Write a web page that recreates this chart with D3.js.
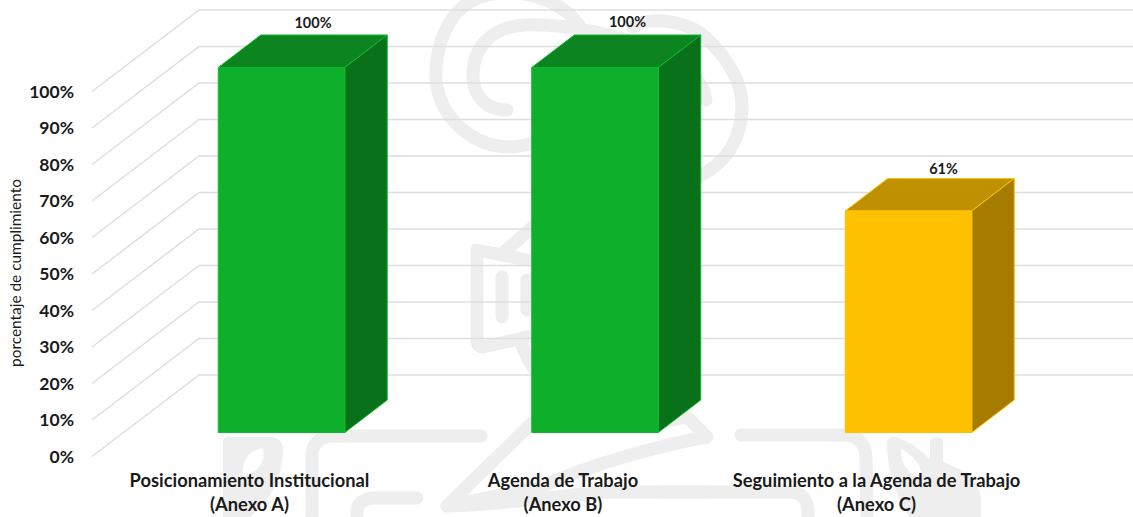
<!DOCTYPE html>
<html><head><meta charset="utf-8">
<script src="https://cdn.jsdelivr.net/npm/d3@7"></script>
<style>html,body{margin:0;padding:0;background:#fff}svg{display:block}text{font-family:Lato,"Open Sans",sans-serif;fill:#1a1a1a}</style>
</head><body><svg id="c" width="1133" height="517"></svg>
<script>
const categories=[["Posicionamiento Institucional","(Anexo A)"],["Agenda de Trabajo","(Anexo B)"],["Seguimiento a la Agenda de Trabajo","(Anexo C)"]];
const values=[100,100,60.7];
const ticks=[0,10,20,30,40,50,60,70,80,90,100];
const axisTitle="porcentaje de cumplimiento";
const palette=[
 {front:"#0EAF2A",top:"#0C841F",side:"#0A711B",edge:"#10B82D"},
 {front:"#0EAF2A",top:"#0C841F",side:"#0A711B",edge:"#10B82D"},
 {front:"#FFC000",top:"#BF9000",side:"#A67C00",edge:"#FFC000"}];
const valueLabelDx=[31.5,32.5,35];
const valueLabelY=[28,27,174];

const svg=d3.select("#c");
const W=1133;
const y=d3.scaleLinear().domain([0,100]).range([456.5,91.5]);
const depth={dx:107,dy:-81.5};
const barDepth={dx:42.5,dy:-32.5};
const x=d3.scalePoint().domain([0,1,2]).range([281.5,908.5]);
const barW=126.5, barBaseShift=-24;

// watermark (decorative background)
const wmColor="#eeeeee";
const wm=svg.append("g").attr("fill","none").attr("stroke",wmColor).attr("stroke-width",13).attr("stroke-linecap","round").attr("stroke-linejoin","round");
[
 // spiral
 "M507 110C485 110 473 95 473 75C473 45 495 26 525 25C580 22 700 50 706 100",
 "M583 32C565 -5 500 -20 465 5C440 25 435 60 436 80C440 120 475 147 510 147C530 147 560 135 590 110",
 "M633 27C650 15 690 22 705 37C730 60 742 85 742 105C742 140 725 165 695 178",
 // megaphone
 "M477 250L477 342C478 347 482 348 487 346L532 336M477 250L532 261M502 277L502 317M527 280L527 310M503 253L535 225L570 205",
 "M520 340C530 370 545 385 560 395",
 // lower ribbon
 "M658 423L687 417L707 437C660 445 590 465 540 487L447 506L533 422",
 "M447 506C500 505 560 495 610 492L705 492",
 // left strokes
 "M312 517L312 455C312 442 322 436 335 436L481 436",
 "M357 517L357 512C357 502 365 498 375 498L417 498",
 // right strokes
 "M741 435L843 435C858 435 866 444 866 458L867 517",
 "M660 492L790 492C802 492 808 500 808 512L808 517"
].forEach(d=>wm.append("path").attr("d",d));
// leaves
const leafG=svg.append("g");
leafG.append("path").attr("d","M223 442C223 436 228 436 232 437L272 437C281 438 284 445 283 452C281 490 262 505 250 517L223 517Z").attr("fill",wmColor);
leafG.append("path").attr("d","M243 476C241 460 250 450 263 448C266 462 258 472 243 476Z").attr("fill","#fff");
leafG.append("path").attr("d","M887 442C887 437 893 436 897 437C910 442 922 450 930 460L930 441C932 436 940 436 943 441L943 462C965 470 978 480 981 497L981 517L910 517C895 495 887 470 887 442Z").attr("fill",wmColor);
leafG.append("path").attr("d","M901 449C915 455 922 468 922 478C908 475 900 462 901 449Z").attr("fill","#fff");

// gridlines
const grid=svg.append("g").attr("fill","none").attr("stroke","#dedede").attr("stroke-width",1.5);
grid.selectAll("path").data(ticks).join("path")
 .attr("d",t=>d3.line()([[92,y(t)],[92+depth.dx,y(t)+depth.dy],[W,y(t)+depth.dy]]));

// tick labels
svg.append("g").selectAll("text").data(ticks).join("text")
 .attr("x",74).attr("y",t=>y(t)+6).attr("text-anchor","end")
 .attr("font-size",17.5).attr("font-weight",700).text(t=>t+"%");

// axis title
svg.append("text").attr("transform","translate(21,273) rotate(-90)").attr("text-anchor","middle")
 .attr("font-size",15.4).text(axisTitle);

// bars
const poly=p=>d3.line()(p)+"Z";
svg.append("g").selectAll("g").data(values).join("g").each(function(v,i){
 const g=d3.select(this),c=palette[i];
 const x0=x(i)-barW/2,x1=x0+barW,yT=y(v)+barBaseShift,yB=y(0)+barBaseShift,dx=barDepth.dx,dy=barDepth.dy;
 g.append("path").attr("d",poly([[x0,yT],[x1,yT],[x1+dx,yT+dy],[x0+dx,yT+dy]])).attr("fill",c.top).attr("stroke",c.edge).attr("stroke-width",1);
 g.append("path").attr("d",poly([[x1,yT],[x1+dx,yT+dy],[x1+dx,yB+dy],[x1,yB]])).attr("fill",c.side).attr("stroke",c.edge).attr("stroke-width",1);
 g.append("path").attr("d",poly([[x0,yT],[x1,yT],[x1,yB],[x0,yB]])).attr("fill",c.front).attr("stroke",c.edge).attr("stroke-width",1);
 g.append("text").attr("x",x(i)+valueLabelDx[i]).attr("y",valueLabelY[i]).attr("text-anchor","middle")
  .attr("font-size",14.5).attr("font-weight",700).text(d3.format(".0f")(v)+"%");
});

// category labels
const labels=svg.append("g").selectAll("text").data(categories).join("text")
 .attr("x",(d,i)=>x(i)-32).attr("text-anchor","middle").attr("font-size",18.3).attr("font-weight",700);
labels.selectAll("tspan").data(d=>d).join("tspan")
 .attr("x",function(){return this.parentNode.getAttribute("x")})
 .attr("y",(d,j)=>487+j*24).text(d=>d);
</script></body></html>
